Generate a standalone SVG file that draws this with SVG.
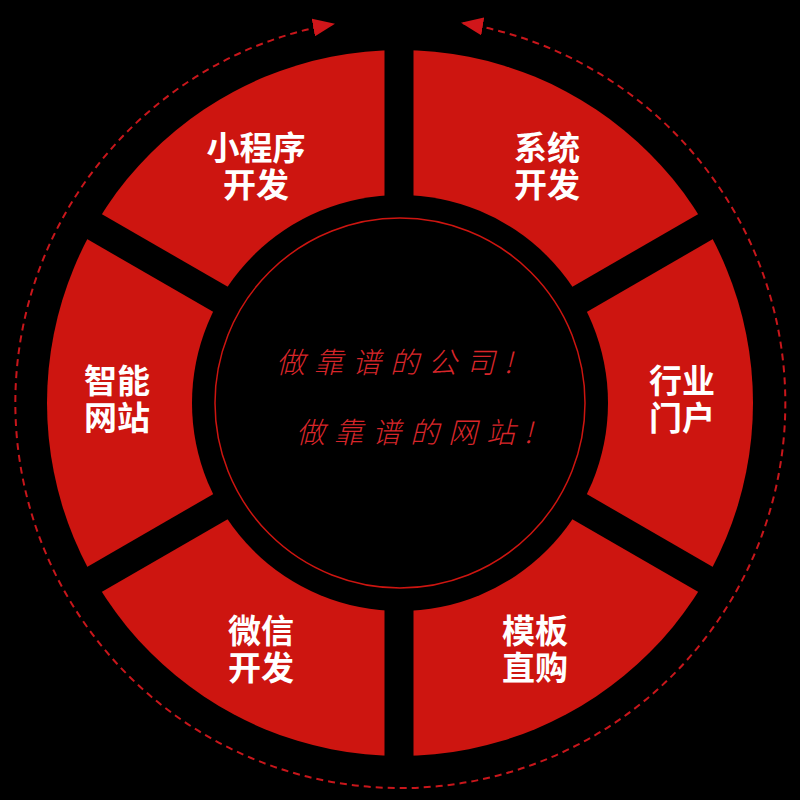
<svg xmlns="http://www.w3.org/2000/svg" width="800" height="800" viewBox="0 0 800 800">
<defs>
<style>
.lbl{font-family:"Noto Sans CJK SC","Noto Sans",sans-serif;font-weight:700;font-size:33px;fill:#ffffff;text-anchor:middle}
.slogan{font-family:"Noto Sans CJK SC",sans-serif;font-weight:300;font-size:29px;fill:#d8262a;font-style:italic;letter-spacing:9px}
.gap{stroke:#000;stroke-width:29}
</style>
<marker id="ah" viewBox="0 0 22 18" refX="20" refY="9" markerWidth="22" markerHeight="18" markerUnits="userSpaceOnUse" orient="auto-start-reverse">
<path d="M0,0 L22,9 L0,18 Z" fill="#d0161a"/>
</marker>
</defs>
<rect width="800" height="800" fill="#000"/>
<g id="connectors">
<path d="M 463 23.2 A 385 385 0 1 1 333 24" fill="none" stroke="#c8161b" stroke-width="2" stroke-dasharray="7 5" marker-start="url(#ah)" marker-end="url(#ah)"/>
</g>
<g id="ring">
<circle cx="400" cy="403" r="353" fill="#cd1510"/>
<line class="gap" x1="399" y1="30" x2="399" y2="776"/>
<line class="gap" x1="77" y1="589.5" x2="723" y2="216.5"/>
<line class="gap" x1="77" y1="216.5" x2="723" y2="589.5"/>
<circle cx="400" cy="403" r="208" fill="#000"/>
<circle cx="400" cy="403" r="185" fill="none" stroke="#cd1510" stroke-width="1.5"/>
</g>
<g id="node-miniprogram"><text class="lbl"><tspan x="256" y="160">小程序</tspan><tspan x="256" y="197">开发</tspan></text></g>
<g id="node-system"><text class="lbl"><tspan x="547" y="160">系统</tspan><tspan x="547" y="197">开发</tspan></text></g>
<g id="node-portal"><text class="lbl"><tspan x="682" y="393">行业</tspan><tspan x="682" y="430">门户</tspan></text></g>
<g id="node-website"><text class="lbl"><tspan x="117" y="393">智能</tspan><tspan x="117" y="430">网站</tspan></text></g>
<g id="node-wechat"><text class="lbl"><tspan x="261" y="643">微信</tspan><tspan x="261" y="680">开发</tspan></text></g>
<g id="node-template"><text class="lbl"><tspan x="535" y="643">模板</tspan><tspan x="535" y="680">直购</tspan></text></g>
<g id="center">
<text class="slogan" x="276" y="373">做靠谱的公司!</text>
<text class="slogan" x="296" y="443">做靠谱的网站!</text>
</g>
</svg>
